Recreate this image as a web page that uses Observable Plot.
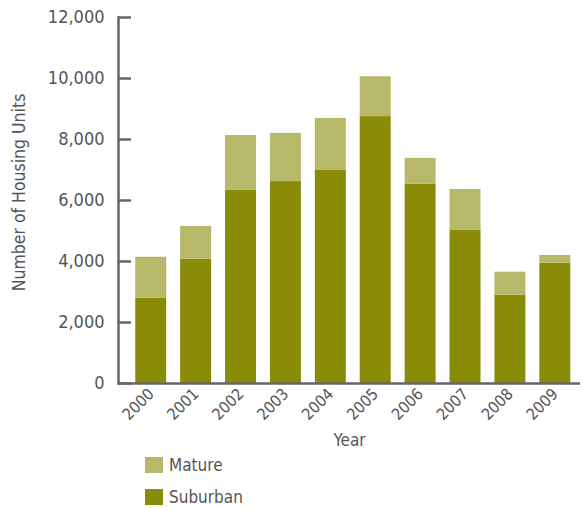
<!DOCTYPE html>
<html>
<head>
<meta charset="utf-8">
<script src="https://cdn.jsdelivr.net/npm/d3@7"></script>
<script src="https://cdn.jsdelivr.net/npm/@observablehq/plot@0.6"></script>
<style>
  body { margin: 0; background: #fff; font-family: "DejaVu Sans Condensed", "Open Sans", sans-serif; color: #555; }
  #legend { padding-left: 145px; padding-top: 7px; }
  .item { display: flex; align-items: center; height: 16px; margin-bottom: 16px; font-size: 17px; color: #555; }
  .sw { width: 18px; height: 16px; margin-right: 6px; flex: none; }
</style>
</head>
<body>
<div id="chart"></div>
<div id="legend"></div>
<script>
const years = ["2000", "2001", "2002", "2003", "2004", "2005", "2006", "2007", "2008", "2009"];
const suburban = [2800, 4080, 6330, 6620, 7000, 8750, 6530, 5020, 2900, 3940];
const mature = [1340, 1070, 1800, 1580, 1690, 1310, 850, 1340, 750, 260];
const seriesNames = ["Mature", "Suburban"];
const seriesColors = ["#b8b86a", "#8a8c07"];
const yTicks = [0, 2000, 4000, 6000, 8000, 10000, 12000];

const data = [];
years.forEach((y, i) => {
  data.push({year: y, series: "Suburban", value: suburban[i]});
  data.push({year: y, series: "Mature", value: mature[i]});
});

const chart = Plot.plot({
  width: 582,
  height: 450,
  marginLeft: 118,
  marginRight: 2,
  marginTop: 17,
  marginBottom: 67,
  style: {color: "#555", fontFamily: "'DejaVu Sans Condensed', 'Open Sans', sans-serif", background: "#fff"},
  x: {domain: years, paddingInner: 0.31, paddingOuter: 0.3, align: 0.64, round: false},
  y: {domain: [0, 12000]},
  color: {domain: seriesNames, range: seriesColors},
  marks: [
    Plot.barY(data, {x: "year", y: "value", fill: "series"}),
    Plot.frame({anchor: "left", stroke: "#666", strokeWidth: 2.5}),
    Plot.ruleY([0], {stroke: "#666", strokeWidth: 2.5}),
    Plot.axisY({
      ticks: yTicks, tickSize: -13, tickPadding: 27, stroke: "#666", strokeWidth: 2.5,
      fontSize: 18, fill: "#555",
      label: "Number of Housing Units", labelAnchor: "center", labelOffset: 106, labelArrow: false
    }),
    Plot.axisX({
      tickSize: 0, tickRotate: -45, tickPadding: 8, fontSize: 16, fill: "#555",
      label: "Year", labelAnchor: "center", labelOffset: 62, labelArrow: false
    })
  ]
});
chart.querySelectorAll('[aria-label="x-axis label"] text').forEach(t => t.setAttribute("font-size", 17));
chart.querySelectorAll('[aria-label="y-axis label"] text').forEach(t => { t.setAttribute("font-size", 17.5); t.setAttribute("dx", 8); });
document.getElementById("chart").appendChild(chart);

const legend = document.getElementById("legend");
seriesNames.forEach((name, i) => {
  const item = document.createElement("div");
  item.className = "item";
  const sw = document.createElement("span");
  sw.className = "sw";
  sw.style.background = seriesColors[i];
  item.appendChild(sw);
  item.appendChild(document.createTextNode(name));
  legend.appendChild(item);
});
</script>
</body>
</html>
